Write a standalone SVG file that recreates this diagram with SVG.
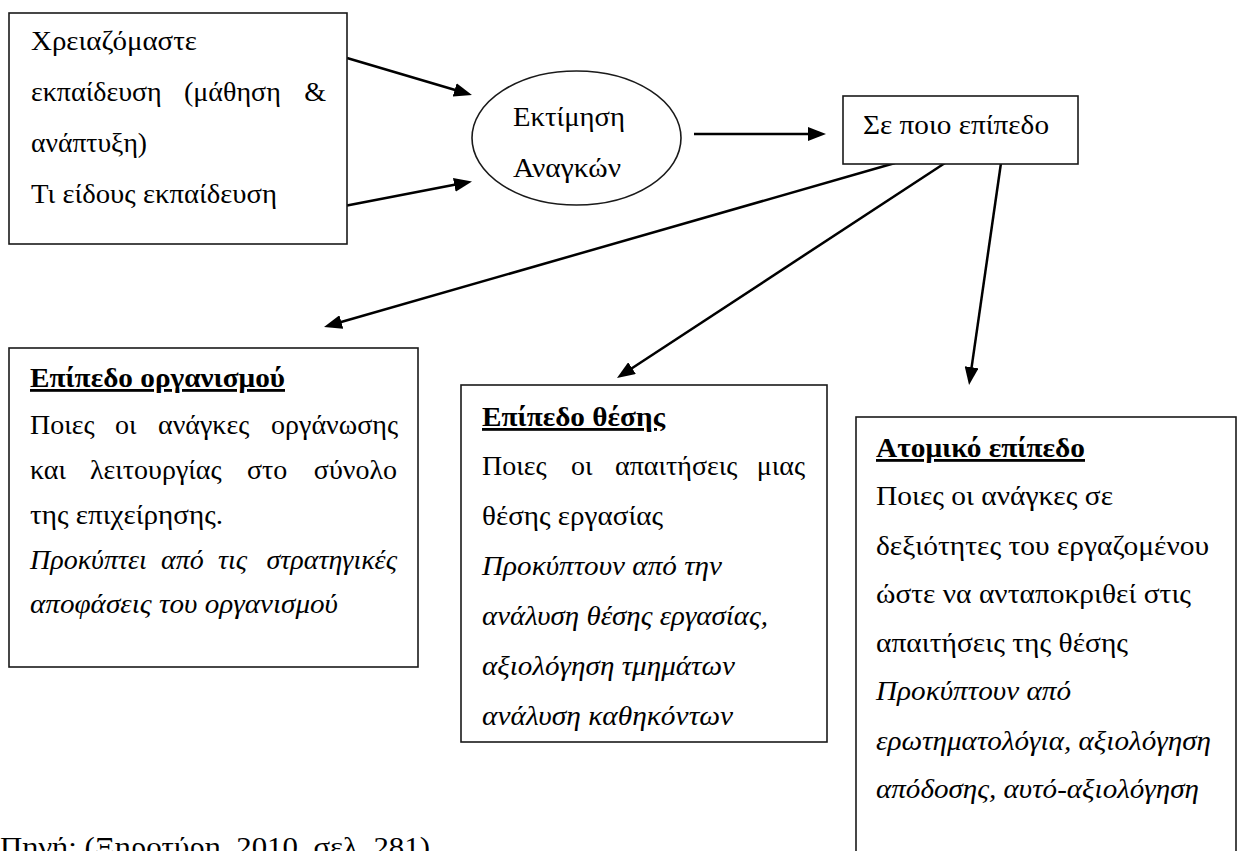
<svg xmlns="http://www.w3.org/2000/svg" width="1237" height="851" viewBox="0 0 1237 851">
<style>
.box{fill:#fff;stroke:#1a1a1a;stroke-width:1.6}
.conn{stroke:#000;stroke-width:2.5;fill:none;marker-end:url(#ah)}
.t{font-family:"Liberation Serif","DejaVu Serif","Times New Roman",serif;font-size:28px;fill:#000}
.b{font-weight:bold;text-decoration:underline}
.i{font-style:italic}
.e{text-anchor:end}
</style>
<defs>
<marker id="ah" markerUnits="userSpaceOnUse" markerWidth="18" markerHeight="14" refX="12" refY="7" orient="auto">
<path d="M0,0 L18,7 L0,14 z" fill="#000"/>
</marker>
</defs>
<rect width="1237" height="851" fill="#fff"/>
<g id="connectors">
<line class="conn" x1="347" y1="58" x2="466.2" y2="93.3"/>
<line class="conn" x1="347" y1="205.5" x2="466.1" y2="182.6"/>
<line class="conn" x1="694" y1="134" x2="820" y2="134"/>
<line class="conn" x1="895" y1="163" x2="329.8" y2="325.3"/>
<line class="conn" x1="945" y1="163" x2="622" y2="374.7"/>
<line class="conn" x1="1001" y1="163" x2="969.9" y2="379.1"/>
</g>
<g id="need">
<rect class="box" x="9" y="13" width="338" height="231"/>
<text class="t" x="31" y="50" textLength="166" lengthAdjust="spacingAndGlyphs">Χρειαζόμαστε</text>
<text class="t" x="31" y="101">εκπαίδευση</text>
<text class="t" x="184" y="101">(μάθηση</text>
<text class="t e" x="326" y="101">&amp;</text>
<text class="t" x="31" y="152" textLength="116" lengthAdjust="spacingAndGlyphs">ανάπτυξη)</text>
<text class="t" x="31" y="203" textLength="246" lengthAdjust="spacingAndGlyphs">Τι είδους εκπαίδευση</text>
</g>
<g id="assessment">
<ellipse cx="576.5" cy="138" rx="104.5" ry="67" fill="#fff" stroke="#1a1a1a" stroke-width="1.6"/>
<text class="t" x="513" y="126" textLength="112" lengthAdjust="spacingAndGlyphs">Εκτίμηση</text>
<text class="t" x="513" y="177" textLength="108" lengthAdjust="spacingAndGlyphs">Αναγκών</text>
</g>
<g id="level">
<rect class="box" x="843" y="96" width="235" height="68"/>
<text class="t" x="863" y="134" textLength="186" lengthAdjust="spacingAndGlyphs">Σε ποιο επίπεδο</text>
</g>
<g id="organisation">
<rect class="box" x="9" y="348" width="409" height="319"/>
<text class="t b" x="30" y="387" textLength="255" lengthAdjust="spacingAndGlyphs">Επίπεδο οργανισμού</text>
<text class="t" x="30" y="434">Ποιες</text>
<text class="t" x="115" y="434">οι</text>
<text class="t" x="158" y="434">ανάγκες</text>
<text class="t e" x="398" y="434">οργάνωσης</text>
<text class="t" x="30" y="479">και</text>
<text class="t" x="90" y="479">λειτουργίας</text>
<text class="t" x="247" y="479">στο</text>
<text class="t e" x="397" y="479">σύνολο</text>
<text class="t" x="30" y="524" textLength="193" lengthAdjust="spacingAndGlyphs">της επιχείρησης.</text>
<text class="t i" x="30" y="569">Προκύπτει</text>
<text class="t i" x="161" y="569">από</text>
<text class="t i" x="218" y="569">τις</text>
<text class="t i e" x="397" y="569">στρατηγικές</text>
<text class="t i" x="30" y="613" textLength="308" lengthAdjust="spacingAndGlyphs">αποφάσεις του οργανισμού</text>
</g>
<g id="position">
<rect class="box" x="461" y="385" width="366" height="357"/>
<text class="t b" x="482" y="426" textLength="183" lengthAdjust="spacingAndGlyphs">Επίπεδο θέσης</text>
<text class="t" x="482" y="475">Ποιες</text>
<text class="t" x="571" y="475">οι</text>
<text class="t" x="615" y="475">απαιτήσεις</text>
<text class="t e" x="805" y="475">μιας</text>
<text class="t" x="482" y="525" textLength="181" lengthAdjust="spacingAndGlyphs">θέσης εργασίας</text>
<text class="t i" x="482" y="575" textLength="240" lengthAdjust="spacingAndGlyphs">Προκύπτουν από την</text>
<text class="t i" x="482" y="625" textLength="286" lengthAdjust="spacingAndGlyphs">ανάλυση θέσης εργασίας,</text>
<text class="t i" x="482" y="675" textLength="253" lengthAdjust="spacingAndGlyphs">αξιολόγηση τμημάτων</text>
<text class="t i" x="482" y="725" textLength="251" lengthAdjust="spacingAndGlyphs">ανάλυση καθηκόντων</text>
</g>
<g id="individual">
<rect class="box" x="856" y="417" width="380" height="480"/>
<text class="t b" x="876" y="457" textLength="209" lengthAdjust="spacingAndGlyphs">Ατομικό επίπεδο</text>
<text class="t" x="876" y="505" textLength="237" lengthAdjust="spacingAndGlyphs">Ποιες οι ανάγκες σε</text>
<text class="t" x="876" y="555" textLength="333" lengthAdjust="spacingAndGlyphs">δεξιότητες του εργαζομένου</text>
<text class="t" x="876" y="603" textLength="315" lengthAdjust="spacingAndGlyphs">ώστε να ανταποκριθεί στις</text>
<text class="t" x="876" y="652" textLength="252" lengthAdjust="spacingAndGlyphs">απαιτήσεις της θέσης</text>
<text class="t i" x="876" y="700" textLength="195" lengthAdjust="spacingAndGlyphs">Προκύπτουν από</text>
<text class="t i" x="876" y="750" textLength="335" lengthAdjust="spacingAndGlyphs">ερωτηματολόγια, αξιολόγηση</text>
<text class="t i" x="876" y="798" textLength="323" lengthAdjust="spacingAndGlyphs">απόδοσης, αυτό-αξιολόγηση</text>
</g>
<g id="source">
<text class="t" x="0" y="856" textLength="430" lengthAdjust="spacingAndGlyphs">Πηγή: (Ξηροτύρη, 2010, σελ. 281)</text>
</g>
</svg>
